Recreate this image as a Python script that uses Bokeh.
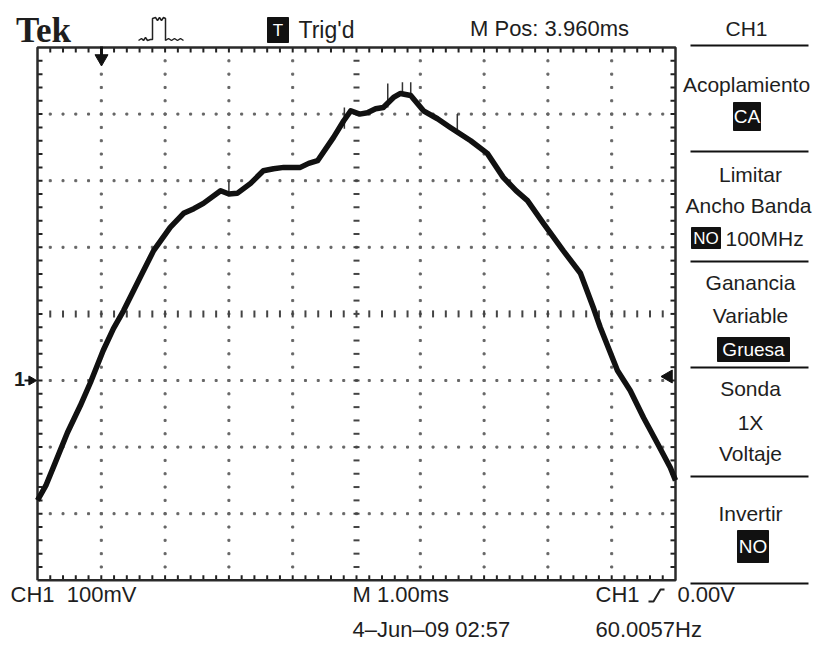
import numpy as np
from bokeh.plotting import figure
from bokeh.models import Range1d
from bokeh.core.properties import value
from bokeh.embed import file_html
from bokeh.resources import INLINE

# CH1 trace: time in ms from left edge of graticule, voltage in mV (ground = 0)
time_ms = [0.00, 0.13, 0.28, 0.47, 0.67, 0.83, 1.03, 1.19, 1.35, 1.61, 1.82, 2.08,
           2.29, 2.45, 2.60, 2.87, 3.00, 3.13, 3.34, 3.54, 3.70, 3.86, 4.12, 4.25,
           4.39, 4.64, 4.80, 4.91, 5.05, 5.17, 5.30, 5.42, 5.58, 5.69, 5.85, 6.05,
           6.27, 6.47, 6.79, 7.05, 7.30, 7.50, 7.68, 7.93, 8.24, 8.51, 8.71, 8.82,
           9.09, 9.29, 9.50, 9.72, 9.92, 10.00]
volt_mV = [-180, -158, -123, -78, -38, -3, 45, 78, 105, 155, 195, 230,
           251, 258, 266, 285, 280, 281, 296, 315, 318, 320, 320, 326,
           330, 365, 390, 405, 400, 402, 408, 410, 425, 431, 428, 405,
           393, 380, 360, 341, 305, 285, 270, 236, 195, 161, 110, 80,
           15, -15, -56, -95, -131, -150]
# noise spikes on the trace
spike_t = [3.00, 4.81, 5.49, 5.72, 5.85, 6.58]
spike_lo = [282, 378, 410, 428, 428, 372]
spike_hi = [300, 410, 446, 448, 448, 400]

# graticule
n_xdiv, n_ydiv = 10, 8
ms_per_div, mv_per_div = 1.0, 100.0
v_bottom, v_top = -300.0, 500.0

# screen texts
NB = "\u00a0"
top_labels = ["Tek", "Trig'd", "M Pos: 3.960ms", "CH1"]
menu_labels = ["Acoplamiento", "Limitar", "Ancho Banda", "100MHz", "Ganancia",
               "Variable", "Sonda", "1X", "Voltaje", "Invertir"]
bottom_labels = ["CH1" + NB + NB + "100mV", "M 1.00ms", "CH1", "0.00V",
                 "4\u2013Jun\u201309 02:57", "60.0057Hz"]

# ---------------- layout geometry ----------------
W, H = 820, 646
PX_PER_MS = 63.8
PX_PER_MV = 0.666
ORIG_X = 37      # canvas px of t = 0
GND_Y = 380      # canvas px (from top) of v = 0

x_start = -ORIG_X / PX_PER_MS
x_end = (W - ORIG_X) / PX_PER_MS
y_end = GND_Y / PX_PER_MV
y_start = -(H - GND_Y) / PX_PER_MV


def tx(px):  # picture x -> data x
    return (px - ORIG_X) / PX_PER_MS


def ty(py):  # picture y -> data y
    return (GND_Y - py) / PX_PER_MV


p = figure(width=W, height=H, x_range=Range1d(x_start, x_end), y_range=Range1d(y_start, y_end),
           output_backend="svg", toolbar_location=None, x_axis_location=None, y_axis_location=None,
           min_border=0, outline_line_color=None)
p.xgrid.visible = False
p.ygrid.visible = False
p.background_fill_color = "white"
p.border_fill_color = "white"

FONT = value("Liberation Sans")
INK = "#1e1e1e"

t_end = n_xdiv * ms_per_div

# grid dots
dot_x, dot_y = [], []
v_steps = np.arange(v_bottom + 20, v_top, 20)
t_steps = np.arange(0.2, t_end, 0.2)
for k in range(1, n_xdiv):
    if k == n_xdiv // 2:
        continue
    dot_x += [k * ms_per_div] * len(v_steps)
    dot_y += list(v_steps)
for k in range(1, n_ydiv):
    v = v_bottom + k * mv_per_div
    if v == 100:
        continue
    dot_x += list(t_steps)
    dot_y += [v] * len(t_steps)
p.scatter(dot_x, dot_y, marker="square", size=2, color="#666666")

# center cross ticks
d_t = 3 / PX_PER_MS
d_v = 3.5 / PX_PER_MV
p.segment(x0=5 - d_t, x1=5 + d_t, y0=v_steps, y1=v_steps, line_color="#444444", line_width=2)
p.segment(x0=t_steps, x1=t_steps, y0=100 - d_v, y1=100 + d_v, line_color="#444444", line_width=2)

# edge ticks
el_v = 5 / PX_PER_MV
el_t = 5 / PX_PER_MS
p.segment(x0=t_steps, x1=t_steps, y0=v_top, y1=v_top - el_v, line_color="#222222", line_width=2)
p.segment(x0=t_steps, x1=t_steps, y0=v_bottom, y1=v_bottom + el_v, line_color="#222222", line_width=2)
p.segment(x0=0, x1=el_t, y0=v_steps, y1=v_steps, line_color="#222222", line_width=2)
p.segment(x0=t_end, x1=t_end - el_t, y0=v_steps, y1=v_steps, line_color="#222222", line_width=2)

# border
p.line([0, t_end, t_end, 0, 0], [v_bottom, v_bottom, v_top, v_top, v_bottom],
       line_color="#2a2a2a", line_width=2.5)

# trace
p.segment(x0=spike_t, x1=spike_t, y0=spike_lo, y1=spike_hi, line_color="#333333", line_width=1.5)
p.line(time_ms, volt_mV, line_color="#111111", line_width=5.5, line_join="round")

# markers: trigger position, ground, trigger level
p.segment(x0=tx(101), x1=tx(101), y0=ty(46), y1=ty(56), line_color="#111111", line_width=3)
p.scatter([tx(101)], [ty(58)], marker="inverted_triangle", size=13, color="#111111")
p.text([tx(19)], [ty(378)], text=["1"], text_font=FONT, text_font_style="bold",
       text_font_size="20px", text_align="center", text_baseline="middle", text_color=INK)
p.segment(x0=tx(24), x1=tx(32), y0=0, y1=0, line_color="#111111", line_width=2)
p.scatter([tx(31)], [ty(380)], marker="triangle", angle=-np.pi / 2, size=9, color="#111111")
p.scatter([tx(668)], [ty(376)], marker="triangle", angle=np.pi / 2, size=13, color="#111111")


def label(txt, px, py, size="21px", align="center", color=INK, style="normal", font=FONT):
    p.text([tx(px)], [ty(py)], text=[txt], text_font=font, text_font_size=size,
           text_font_style=style, text_align=align, text_baseline="middle", text_color=color)


def inv_box(x0, x1, y0, y1, txt, size="19px"):
    p.quad(left=tx(x0), right=tx(x1), top=ty(y0), bottom=ty(y1), fill_color="#111111",
           line_color="#111111")
    label(txt, (x0 + x1) / 2, (y0 + y1) / 2, size=size, color="white")


# top row
label(top_labels[0], 43, 30, size="35px", style="bold", font=value("Liberation Serif"))
icon_x = [138, 141, 143, 145, 147, 150, 152, 152, 155, 157, 159, 161, 163, 165, 165, 168,
          171, 174, 177, 180, 183]
icon_y = [40, 38, 40, 37, 40, 39, 39, 18, 17, 20, 17, 20, 17, 18, 40, 38, 40, 38, 40, 38, 40]
p.line([tx(v) for v in icon_x], [ty(v) for v in icon_y], line_color="#222222", line_width=1.5)
inv_box(267, 288, 17, 42, "T", size="17px")
label(top_labels[1], 298, 29, size="23px", align="left")
label(top_labels[2], 549, 28, size="22px")
label(top_labels[3], 746, 28, size="21px")

# right menu
for yy in [45, 151, 261, 367, 476, 583]:
    p.segment(x0=tx(690), x1=tx(808), y0=ty(yy), y1=ty(yy), line_color="#111111", line_width=2)
label(menu_labels[0], 746, 84)
inv_box(733, 760, 102, 130, "CA")
label(menu_labels[1], 750, 174)
label(menu_labels[2], 748, 205)
inv_box(691, 720, 227, 248, "NO", size="17px")
label(menu_labels[3], 725, 238, align="left")
label(menu_labels[4], 750, 282)
label(menu_labels[5], 750, 315)
inv_box(717, 789, 337, 361, "Gruesa")
label(menu_labels[6], 750, 388)
label(menu_labels[7], 750, 422)
label(menu_labels[8], 750, 453)
label(menu_labels[9], 750, 513)
inv_box(737, 768, 530, 562, "NO")

# bottom rows
label(bottom_labels[0], 10, 594, size="22px", align="left")
label(bottom_labels[1], 352, 594, size="22px", align="left")
label(bottom_labels[2], 595, 594, size="22px", align="left")
p.line([tx(648), tx(653), tx(660), tx(664)], [ty(601), ty(601), ty(589), ty(589)],
       line_color="#222222", line_width=2)
label(bottom_labels[3], 677, 594, size="22px", align="left")
label(bottom_labels[4], 352, 629, size="22px", align="left")
label(bottom_labels[5], 595, 629, size="22px", align="left")

open("out.html", "w").write(file_html(p, INLINE))
